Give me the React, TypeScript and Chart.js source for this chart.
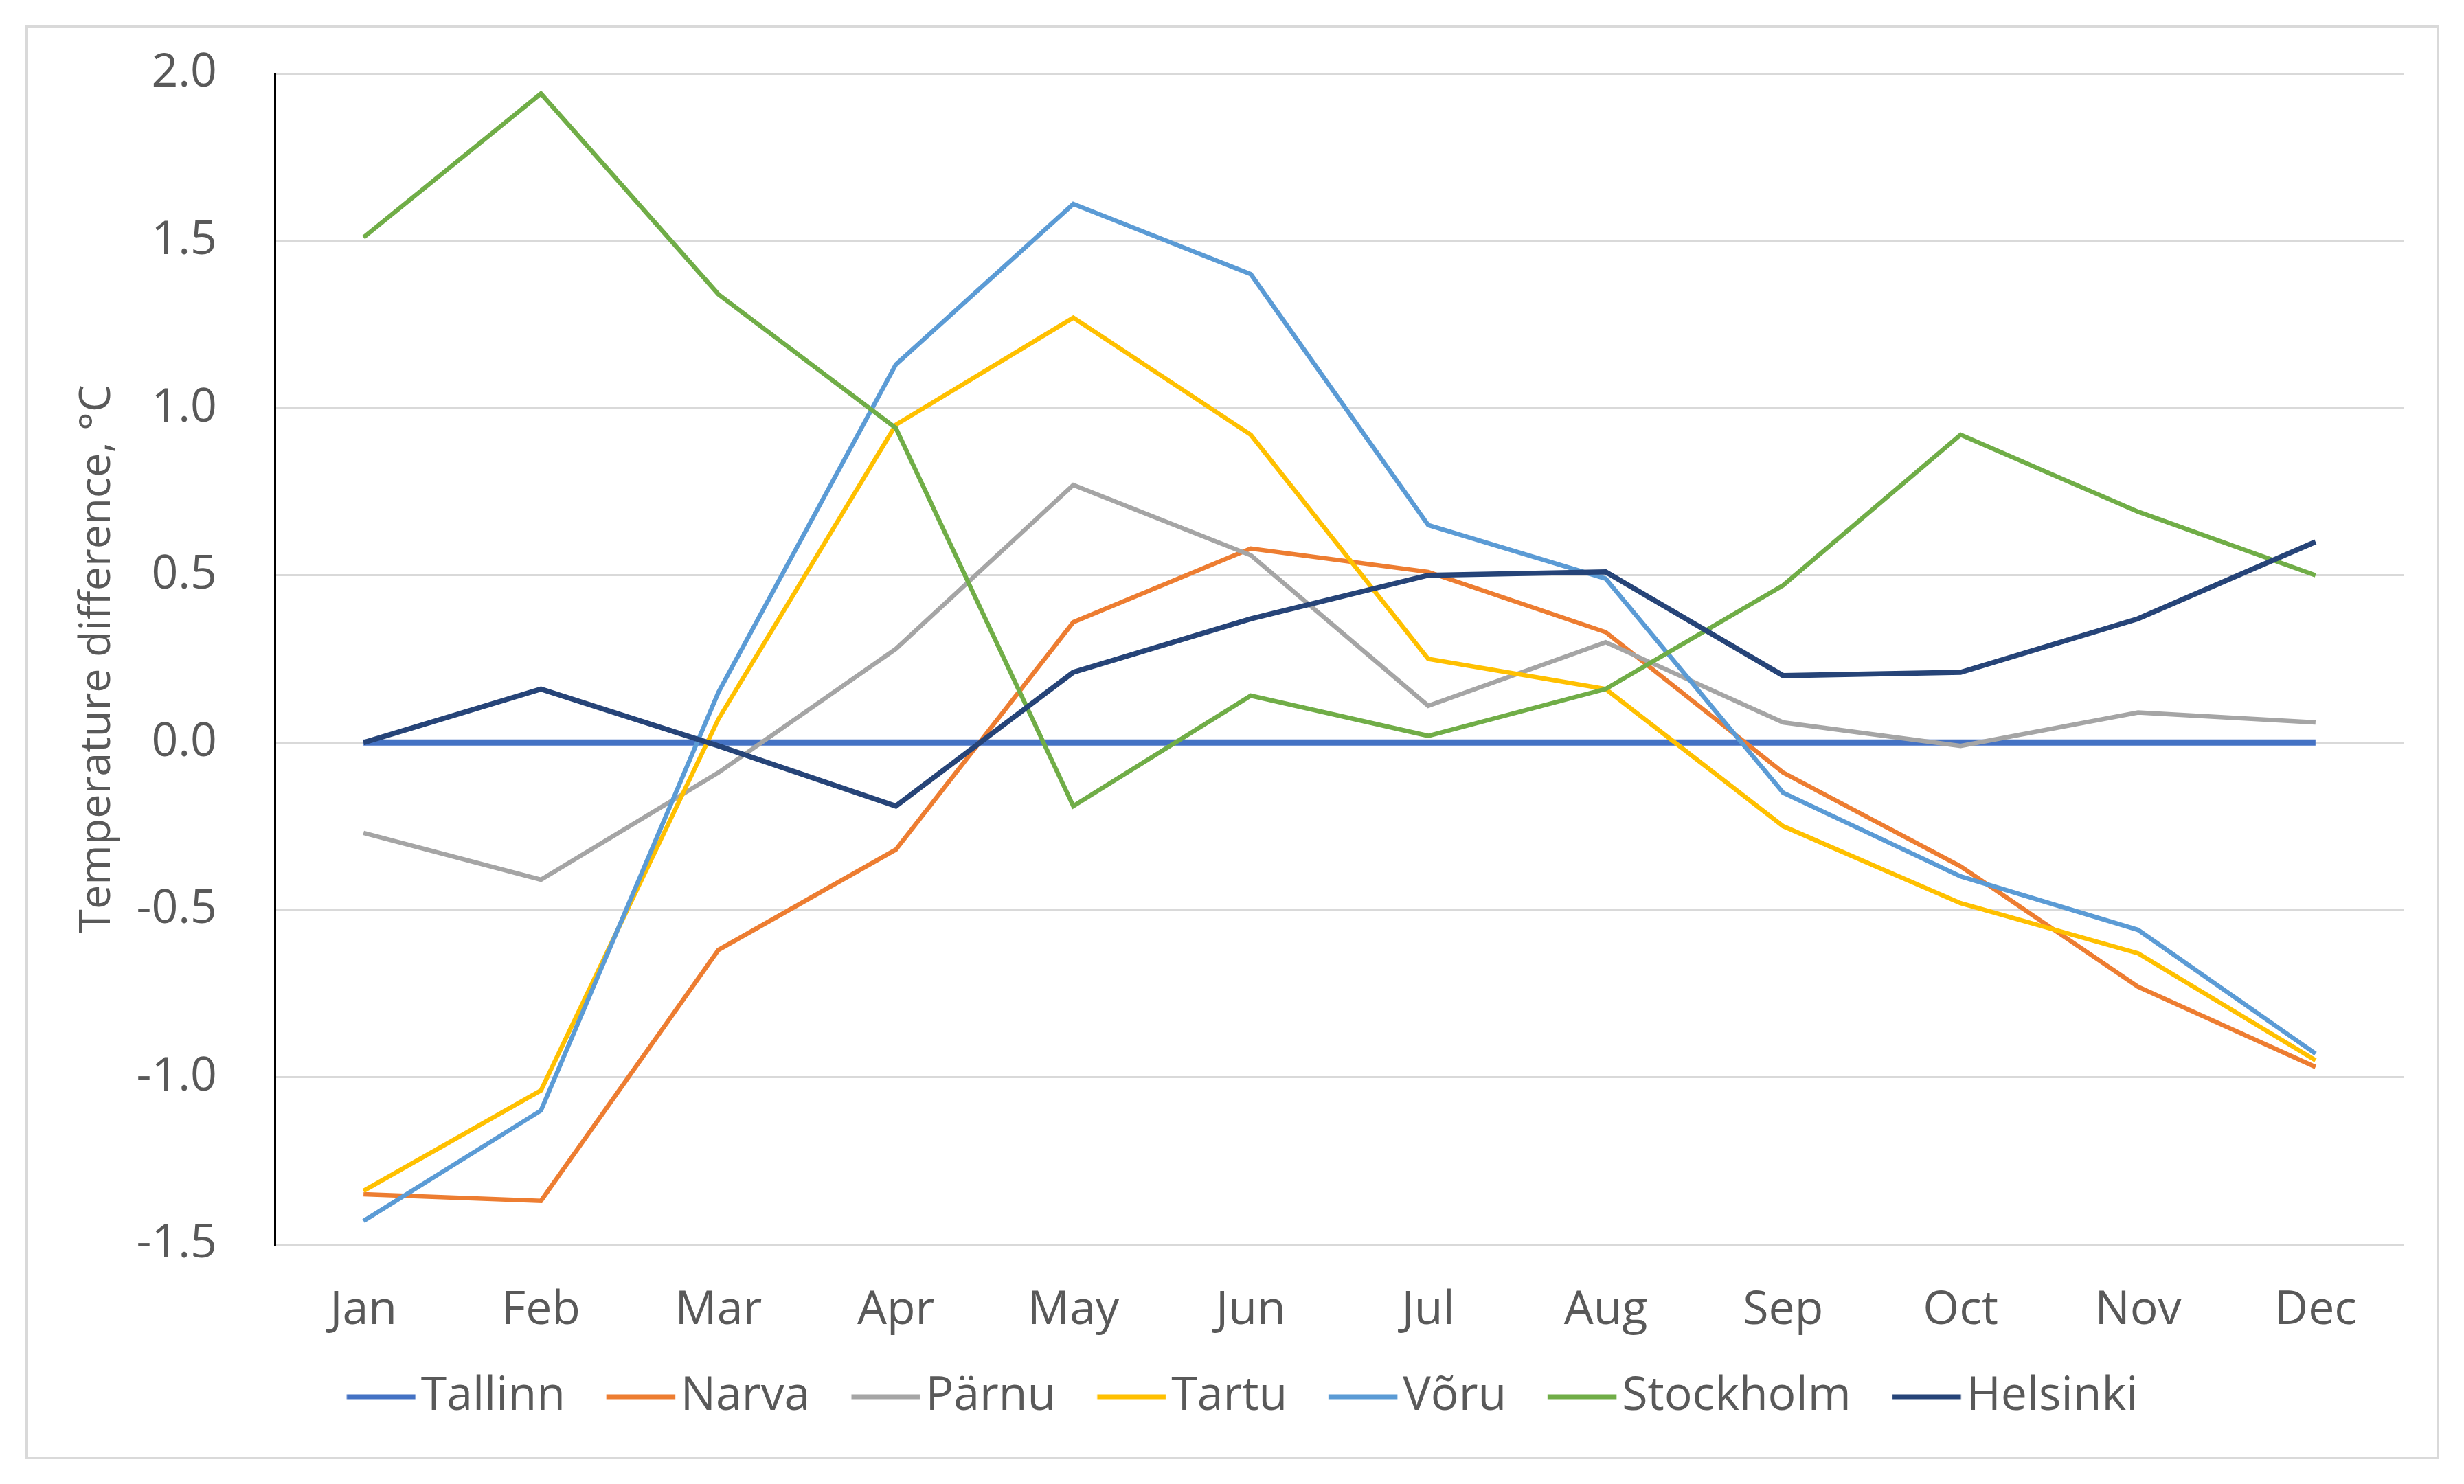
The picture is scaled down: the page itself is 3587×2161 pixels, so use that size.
import { useEffect, useRef } from "react";
import { Chart, registerables } from "chart.js";

Chart.register(...registerables);

const months = ["Jan", "Feb", "Mar", "Apr", "May", "Jun", "Jul", "Aug", "Sep", "Oct", "Nov", "Dec"];
const seriesNames = ["Tallinn", "Narva", "Pärnu", "Tartu", "Võru", "Stockholm", "Helsinki"];
const tallinn = [0, 0, 0, 0, 0, 0, 0, 0, 0, 0, 0, 0];
const narva = [-1.35, -1.37, -0.62, -0.32, 0.36, 0.58, 0.51, 0.33, -0.09, -0.37, -0.73, -0.97];
const parnu = [-0.27, -0.41, -0.09, 0.28, 0.77, 0.56, 0.11, 0.3, 0.06, -0.01, 0.09, 0.06];
const tartu = [-1.34, -1.04, 0.07, 0.95, 1.27, 0.92, 0.25, 0.16, -0.25, -0.48, -0.63, -0.95];
const voru = [-1.43, -1.1, 0.15, 1.13, 1.61, 1.4, 0.65, 0.49, -0.15, -0.4, -0.56, -0.93];
const stockholm = [1.51, 1.94, 1.34, 0.94, -0.19, 0.14, 0.02, 0.16, 0.47, 0.92, 0.69, 0.5];
const helsinki = [0.0, 0.16, -0.01, -0.19, 0.21, 0.37, 0.5, 0.51, 0.2, 0.21, 0.37, 0.6];
const seriesValues = [tallinn, narva, parnu, tartu, voru, stockholm, helsinki];
const seriesColors = ["#4472C4", "#ED7D31", "#A5A5A5", "#FFC000", "#5B9BD5", "#70AD47", "#264478"];
const seriesWidths = [9, 6.5, 6.5, 6.5, 6.5, 6.5, 7.5];
const yMin = -1.5;
const yMax = 2.0;
const yStep = 0.5;
const yTitle = "Temperature difference, °C";

const W = 3587;
const H = 2161;
const FONT = "'Open Sans', sans-serif";

function makeMarker(color: string): HTMLCanvasElement {
  const c = document.createElement("canvas");
  c.width = 220;
  c.height = 12;
  const g = c.getContext("2d")!;
  g.strokeStyle = color;
  g.lineWidth = 7;
  g.beginPath();
  g.moveTo(79.5, 6);
  g.lineTo(179.5, 6);
  g.stroke();
  return c;
}

export default function App() {
  const ref = useRef<HTMLCanvasElement>(null);

  useEffect(() => {
    if (!ref.current) return;
    const markers = seriesColors.map(makeMarker);
    const frame = {
      id: "outerFrame",
      beforeDraw(chart: any) {
        const ctx = chart.ctx;
        ctx.save();
        ctx.fillStyle = "#ffffff";
        ctx.fillRect(0, 0, W, H);
        ctx.strokeStyle = "#D9D9D9";
        ctx.lineWidth = 4;
        ctx.strokeRect(39, 39, 3510, 2084);
        ctx.restore();
      },
    };
    const n = seriesNames.length;
    const defaultGen = (Chart.defaults.plugins.legend.labels as any).generateLabels;
    const chart = new Chart(ref.current, {
      type: "line",
      data: {
        labels: months,
        datasets: seriesNames.map((name, i) => ({
          label: name,
          data: seriesValues[i],
          borderColor: seriesColors[i],
          backgroundColor: seriesColors[i],
          borderWidth: seriesWidths[i],
          pointRadius: 0,
          pointHoverRadius: 0,
          tension: 0,
          fill: false,
          order: n - 1 - i,
        })),
      },
      options: {
        responsive: false,
        animation: false,
        devicePixelRatio: 1,
        layout: { padding: { left: 104, right: 87, top: 107, bottom: 83 } },
        plugins: {
          tooltip: { enabled: false },
          legend: {
            position: "bottom",
            labels: {
              usePointStyle: true,
              pointStyleWidth: 87,
              padding: 47,
              color: "#595959",
              font: { family: FONT, size: 68 },
              sort: (a: any, b: any) => a.datasetIndex - b.datasetIndex,
              generateLabels: (chart: any) =>
                defaultGen(chart).map((it: any) => ({ ...it, pointStyle: markers[it.datasetIndex] })),
            },
          },
        },
        scales: {
          x: {
            offset: true,
            grid: { display: false, drawTicks: false },
            border: { display: false },
            ticks: {
              padding: 56,
              color: "#595959",
              font: { family: FONT, size: 68 },
              maxRotation: 0,
            },
            afterFit: (s: any) => {
              s.height = 141;
            },
          },
          y: {
            min: yMin,
            max: yMax,
            grid: { color: "#D9D9D9", lineWidth: 3, drawTicks: false },
            border: { display: true, color: "#000000", width: 3 },
            ticks: {
              stepSize: yStep,
              padding: 84,
              color: "#595959",
              font: { family: FONT, size: 68 },
              callback: (v: any) => Number(v).toFixed(1),
            },
            title: {
              display: true,
              text: yTitle,
              color: "#595959",
              padding: { top: 0, bottom: 0 },
              font: { family: FONT, size: 63 },
            },
            afterFit: (s: any) => {
              s.width = 296;
              s.paddingTop = 0;
              s.paddingBottom = 0;
            },
          },
        },
      },
      plugins: [frame],
    } as any);
    return () => chart.destroy();
  }, []);

  return (
    <div style={{ position: "fixed", left: 0, top: 0, width: W, height: H, background: "#fff" }}>
      <canvas ref={ref} width={W} height={H} style={{ width: W, height: H, display: "block" }} />
    </div>
  );
}
